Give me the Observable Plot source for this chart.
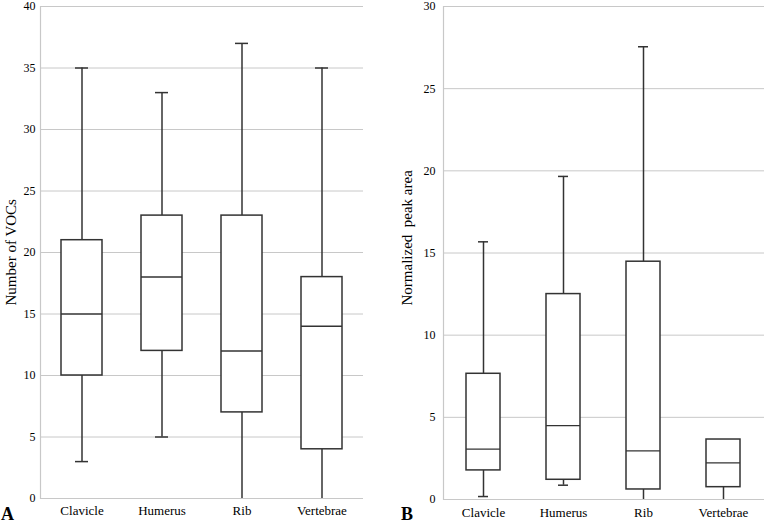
<!DOCTYPE html>
<html><head><meta charset="utf-8">
<script src="https://cdn.jsdelivr.net/npm/d3@7"></script>
<script src="https://cdn.jsdelivr.net/npm/@observablehq/plot@0.6"></script>
<style>
body{margin:0;background:#fff;}
#wrap{position:relative;width:765px;height:524px;font-family:"Liberation Serif",serif;overflow:hidden;}
#wrap svg, #wrap svg text {font-family:"Liberation Serif","Times New Roman",serif !important;}
#a{position:absolute;left:0;top:0}
#b{position:absolute;left:383px;top:0}
.panel{position:absolute;font-weight:bold;font-size:18px;line-height:16px;color:#000;font-family:"Liberation Serif",serif;}
</style></head><body>
<div id="wrap"><div id="a"></div><div id="b"></div>
<div class="panel" style="left:1px;top:506px">A</div>
<div class="panel" style="left:401px;top:506px">B</div></div>
<script>
const categories = ["Clavicle", "Humerus", "Rib", "Vertebrae"];

// Panel A: Number of VOCs
const vocMin    = [3, 5, 0, 0];
const vocQ1     = [10, 12, 7, 4];
const vocMedian = [15, 18, 12, 14];
const vocQ3     = [21, 23, 23, 18];
const vocMax    = [35, 33, 37, 35];
const vocTicks  = [0, 5, 10, 15, 20, 25, 30, 35, 40];

// Panel B: Normalized peak area
const areaMin    = [0.18, 0.87, 0, 0];
const areaQ1     = [1.77, 1.2, 0.61, 0.75];
const areaMedian = [3.06, 4.49, 2.96, 2.23];
const areaQ3     = [7.65, 12.5, 14.47, 3.65];
const areaMax    = [15.68, 19.66, 27.55, 3.65];
const areaTicks  = [0, 5, 10, 15, 20, 25, 30];

const INK = "#333";
const GRID = "#c8c8c8";

function rowsOf(mn, q1, md, q3, mx) {
  return categories.map((c, i) => ({cat: c, min: mn[i], q1: q1[i], median: md[i], q3: q3[i], max: mx[i]}));
}

function boxPlot({rows, width, marginLeft, marginRight, marginBottom, domain, ticks, label, padInner, capInset, medianWidth, labelDx, labelDy, tickPadding, xPad}) {
  return Plot.plot({
    width, height: 524,
    marginLeft, marginRight, marginTop: 6, marginBottom,
    style: "font-family: 'Liberation Serif', serif; font-size: 13px; color: #000; background: #fff;",
    x: {domain: categories, paddingInner: padInner, paddingOuter: padInner / 2, align: 0.5, label: null},
    y: {domain, ticks, label: null},
    marks: [
      Plot.gridY(ticks, {stroke: GRID, strokeOpacity: 1, strokeWidth: 1}),
      Plot.frame({anchor: "left", stroke: GRID, strokeWidth: 1.2}),
      Plot.ruleX(rows.filter(d => d.min < d.q1), {x: "cat", y1: "min", y2: "q1", stroke: INK, strokeWidth: 1.5}),
      Plot.ruleX(rows.filter(d => d.max > d.q3), {x: "cat", y1: "q3", y2: "max", stroke: INK, strokeWidth: 1.5}),
      Plot.tickY(rows.filter(d => d.min > 0), {x: "cat", y: "min", stroke: INK, strokeWidth: 1.5, insetLeft: capInset, insetRight: capInset}),
      Plot.tickY(rows.filter(d => d.max > d.q3), {x: "cat", y: "max", stroke: INK, strokeWidth: 1.5, insetLeft: capInset, insetRight: capInset}),
      Plot.barY(rows, {x: "cat", y1: "q1", y2: "q3", fill: "#fff", stroke: INK, strokeWidth: 1.5}),
      Plot.tickY(rows, {x: "cat", y: "median", stroke: INK, strokeWidth: medianWidth}),
      Plot.axisY(ticks, {tickSize: 0, tickPadding, fontSize: 12, label: null}),
      Plot.axisX({tickSize: 0, tickPadding: xPad, fontSize: 13, label: null}),
      Plot.text([label], {frameAnchor: "bottom-left", rotate: -90, textAnchor: "start", lineAnchor: "bottom", dx: labelDx, dy: labelDy, fontSize: 15, fill: "#000"})
    ]
  });
}

document.getElementById("a").append(boxPlot({
  rows: rowsOf(vocMin, vocQ1, vocMedian, vocQ3, vocMax),
  width: 383, marginLeft: 40, marginRight: 20, marginBottom: 26,
  domain: [0, 40], ticks: vocTicks, label: "Number of VOCs",
  padInner: 0.49, capInset: 14, medianWidth: 1.5, labelDx: -25, labelDy: -193, tickPadding: 5, xPad: 7
}));

document.getElementById("b").append(boxPlot({
  rows: rowsOf(areaMin, areaQ1, areaMedian, areaQ3, areaMax),
  width: 382, marginLeft: 60, marginRight: 1, marginBottom: 25,
  domain: [0, 30], ticks: areaTicks, label: "Normalized  peak area",
  padInner: 0.573, capInset: 12, medianWidth: 1.2, labelDx: -32, labelDy: -194, tickPadding: 8, xPad: 8
}));
</script>
</body></html>
